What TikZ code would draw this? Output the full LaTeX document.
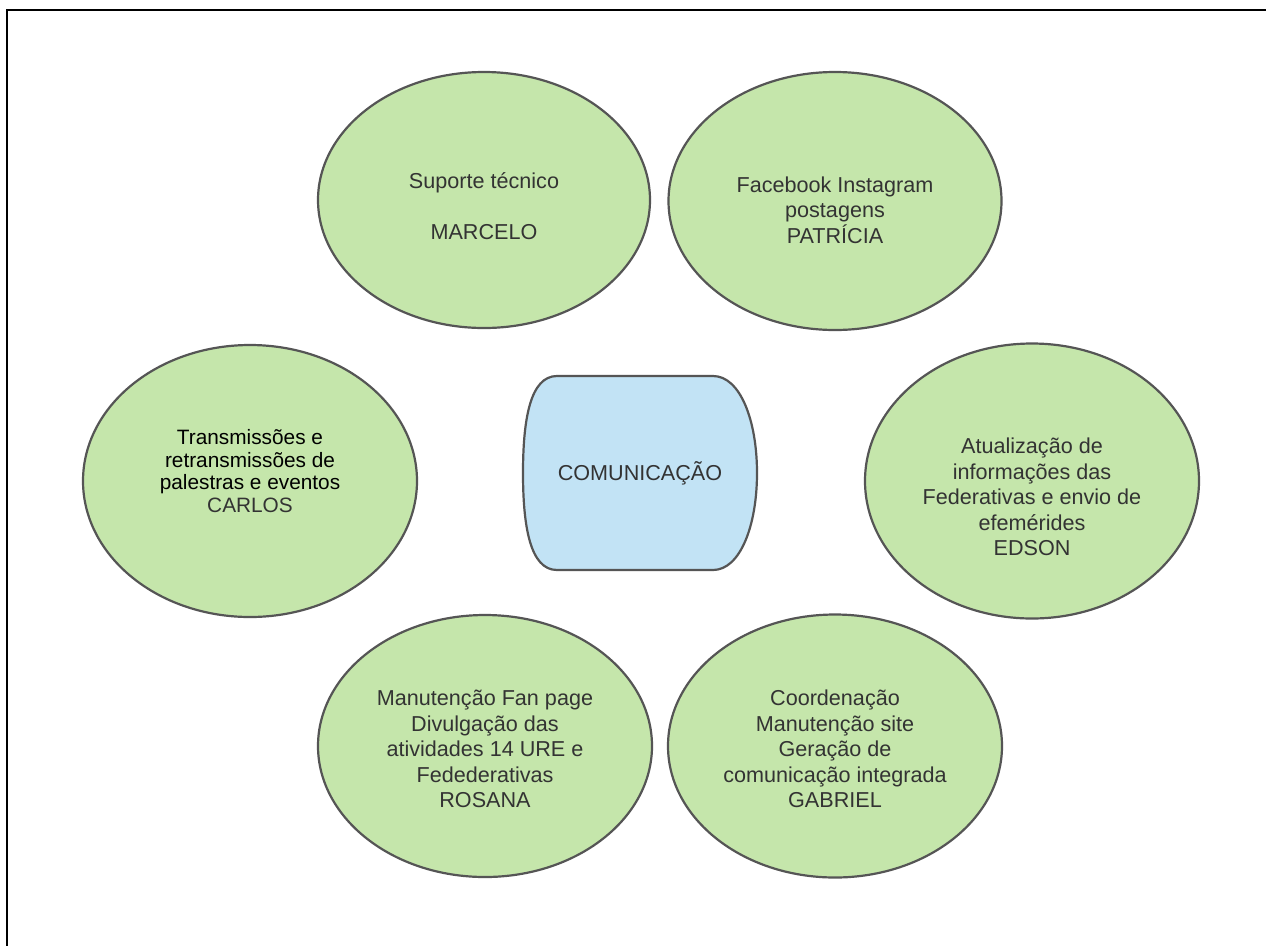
\documentclass[tikz,border=0pt]{standalone}
\usepackage{fontspec}
\setmainfont{Liberation Sans}
\usetikzlibrary{shapes.geometric}
\definecolor{gfill}{RGB}{197,230,171}
\definecolor{bfill}{RGB}{194,227,245}
\definecolor{edgec}{RGB}{85,85,85}
\definecolor{txt}{RGB}{51,51,51}
\begin{document}
\begin{tikzpicture}[x=1pt,y=-1pt,
  bubble/.style={ellipse, draw=edgec, line width=2.2pt, fill=gfill, inner sep=0pt},
  lbl/.style={align=center, text=txt, inner sep=0pt, font=\fontsize{21.6}{25.6}\selectfont},
]
\useasboundingbox (0,0) rectangle (1266,946);
\fill[white] (0,0) rectangle (1266,946);
\coordinate (fr) at (1266,10);
\coordinate (fc) at (7,10);
\coordinate (fb) at (7,946);
\draw[line width=2pt] (fr) -- (fc) -- (fb);

\node[bubble, minimum width=332pt, minimum height=256pt] (sup) at (484,200) {};
\node[bubble, minimum width=333pt, minimum height=258pt] (fac) at (835,201) {};
\node[bubble, minimum width=334pt, minimum height=272pt] (tra) at (250,481) {};
\node[bubble, minimum width=334pt, minimum height=275pt] (atu) at (1032,481) {};
\node[bubble, minimum width=334pt, minimum height=262pt] (man) at (485,746) {};
\node[bubble, minimum width=334pt, minimum height=263pt] (coo) at (835,746) {};

\draw[draw=edgec, line width=2.2pt, fill=bfill]
  (557,376) -- (713,376)
  .. controls (740,376) and (757,420) .. (757,473)
  .. controls (757,526) and (740,570) .. (713,570)
  -- (557,570)
  .. controls (530,570) and (523,526) .. (523,473)
  .. controls (523,420) and (530,376) .. (557,376) -- cycle;
\node[lbl] (com) at (640,473) {COMUNICAÇÃO};

\node[lbl] (tsup) at (484,206) {Suporte técnico\\[25.6pt]MARCELO};
\node[lbl] (tfac) at (835,210) {Facebook Instagram\\postagens\\PATRÍCIA};
\node[lbl, font=\fontsize{20.8}{22.8}\selectfont] (ttra) at (250,471)
  {\textcolor{black}{Transmissões e}\\\textcolor{black}{retransmissões de}\\\textcolor{black}{palestras e eventos}\\CARLOS};
\node[lbl] (tatu) at (1032,497) {Atualização de\\informações das\\Federativas e envio de\\efemérides\\EDSON};
\node[lbl] (tman) at (485,749) {Manutenção Fan page\\Divulgação das\\atividades 14 URE e\\Fedederativas\\ROSANA};
\node[lbl] (tcoo) at (835,749) {Coordenação\\Manutenção site\\Geração de\\comunicação integrada\\GABRIEL};
\end{tikzpicture}
\end{document}
